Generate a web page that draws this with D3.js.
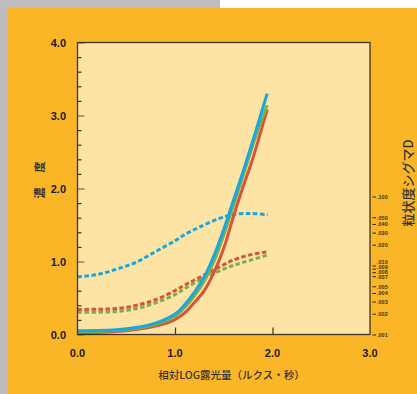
<!DOCTYPE html>
<html>
<head>
<meta charset="utf-8">
<script src="https://cdn.jsdelivr.net/npm/d3@7"></script>
<style>
body { margin: 0; }
svg { display: block; }
</style>
</head>
<body>
<div id="chart"></div>
<script>
// characteristic curves (density vs relative log exposure)
var solidExposure = [0, 0.2, 0.4, 0.6, 0.8, 1.0, 1.1, 1.2, 1.3, 1.4, 1.5, 1.6, 1.7, 1.8, 1.945];
var blueDensity  = [0.052, 0.054, 0.065, 0.095, 0.155, 0.28, 0.41, 0.58, 0.79, 1.08, 1.44, 1.84, 2.24, 2.66, 3.30];
var greenDensity = [0.040, 0.042, 0.054, 0.085, 0.140, 0.25, 0.37, 0.53, 0.73, 1.00, 1.36, 1.77, 2.18, 2.60, 3.14];
var redDensity   = [0.025, 0.027, 0.040, 0.070, 0.115, 0.205, 0.295, 0.44, 0.60, 0.85, 1.18, 1.62, 2.03, 2.42, 3.08];

// granularity curves (sigma D, right log axis)
var grainExposure = [0, 0.2, 0.4, 0.6, 0.8, 1.0, 1.1, 1.25, 1.45, 1.6, 1.77, 1.95];
var blueSigma  = [0.0070, 0.0075, 0.0090, 0.0113, 0.0162, 0.0232, 0.0285, 0.0366, 0.0485, 0.0558, 0.0578, 0.0550];
var redSigma   = [0.00235, 0.00236, 0.00242, 0.00268, 0.00325, 0.00440, 0.0053, 0.0068, 0.0096, 0.0122, 0.0145, 0.0161];
var greenSigma = [0.00213, 0.00214, 0.00219, 0.00240, 0.00292, 0.00385, 0.00470, 0.0062, 0.0084, 0.0102, 0.0121, 0.0144];

var xTicks = [0, 1, 2, 3];
var yTicks = [0, 1, 2, 3, 4];
var sigmaTicks = [0.1, 0.05, 0.04, 0.03, 0.02, 0.01, 0.009, 0.008, 0.007, 0.005, 0.004, 0.003, 0.002, 0.001];
var sigmaLabels = [".100", ".050", ".040", ".030", ".020", ".010", ".009", ".008", ".007", ".005", ".004", ".003", ".002", ".001"];

var blue = "#16a8e1", green = "#7fae4a", red = "#d6553a";

var svg = d3.select("#chart").append("svg").attr("width", 417).attr("height", 394);

// page background
svg.append("rect").attr("x", 0).attr("y", 0).attr("width", 417).attr("height", 394).attr("fill", "#ffffff");
svg.append("rect").attr("x", 0).attr("y", 0).attr("width", 220).attr("height", 394).attr("fill", "#bdbdbd");
svg.append("rect").attr("x", 7).attr("y", 8).attr("width", 410).attr("height", 386).attr("fill", "#fbb627");

var plotLeft = 77.5, plotRight = 370, plotTop = 42.5, plotBottom = 334.5;

var x = d3.scaleLinear().domain([0, 3]).range([plotLeft, plotRight]);
var y = d3.scaleLinear().domain([0, 4]).range([plotBottom, plotTop]);
var ySigma = d3.scaleLog().domain([0.001, 0.1]).range([335, 197]);

svg.append("rect").attr("x", plotLeft).attr("y", plotTop)
    .attr("width", plotRight - plotLeft).attr("height", plotBottom - plotTop)
    .attr("fill", "#fde3a4");

svg.append("clipPath").attr("id", "clip").append("rect")
    .attr("x", plotLeft).attr("y", plotTop)
    .attr("width", plotRight - plotLeft).attr("height", plotBottom - plotTop);

// inner ticks on the left axis
function isMajor(d) { return Math.abs(d - Math.round(d)) < 0.01; }
var yAxis = d3.axisRight(y).tickValues(d3.range(0, 4.01, 0.2)).tickSize(4).tickFormat("");
var gy = svg.append("g").attr("transform", "translate(" + plotLeft + ",0)").call(yAxis);
gy.select(".domain").remove();
gy.selectAll(".tick line")
    .attr("x2", function (d) { return isMajor(d) ? 7 : 4; })
    .attr("stroke", function (d) { return isMajor(d) ? "#7a6a4e" : "#3d3425"; })
    .attr("stroke-width", 1.2);

// inner ticks on the bottom axis
var xAxis = d3.axisTop(x).tickValues([1, 2]).tickSize(7).tickFormat("");
var gx = svg.append("g").attr("transform", "translate(0," + plotBottom + ")").call(xAxis);
gx.select(".domain").remove();
gx.selectAll(".tick line").attr("stroke", "#3d3425").attr("stroke-width", 1.2);

// curves
var plot = svg.append("g").attr("clip-path", "url(#clip)");

function drawSigma(values, color) {
    var line = d3.line().curve(d3.curveCatmullRom.alpha(0.5))
        .x(function (d, i) { return x(grainExposure[i]); })
        .y(function (d) { return ySigma(d); });
    plot.append("path").datum(values).attr("d", line).attr("fill", "none")
        .attr("stroke", color).attr("stroke-width", 3).attr("stroke-dasharray", "4.5,2.5");
}
function drawDensity(values, color) {
    var line = d3.line().curve(d3.curveCatmullRom.alpha(0.5))
        .x(function (d, i) { return x(solidExposure[i]); })
        .y(function (d) { return y(d); });
    plot.append("path").datum(values).attr("d", line).attr("fill", "none")
        .attr("stroke", color).attr("stroke-width", 3);
}

drawSigma(greenSigma, green);
drawSigma(redSigma, red);
drawSigma(blueSigma, blue);
drawDensity(redDensity, red);
drawDensity(greenDensity, green);
drawDensity(blueDensity, blue);

// frame
svg.append("rect").attr("x", plotLeft).attr("y", plotTop)
    .attr("width", plotRight - plotLeft).attr("height", plotBottom - plotTop)
    .attr("fill", "none").attr("stroke", "#3d3425").attr("stroke-width", 1.3);

// tick labels
svg.selectAll(".ylab").data(yTicks).enter().append("text")
    .attr("x", 66).attr("y", function (d) { return y(d) + 4; })
    .attr("text-anchor", "end").attr("font-family", "Liberation Sans, Arial, sans-serif")
    .attr("font-weight", "bold").attr("font-size", 11).attr("fill", "#1a1a1a")
    .text(function (d) { return d.toFixed(1); });

svg.selectAll(".xlab").data(xTicks).enter().append("text")
    .attr("x", function (d) { return x(d); }).attr("y", 356.5)
    .attr("text-anchor", "middle").attr("font-family", "Liberation Sans, Arial, sans-serif")
    .attr("font-weight", "bold").attr("font-size", 11).attr("fill", "#1a1a1a")
    .text(function (d) { return d.toFixed(1); });

// right log axis; labels pushed apart where the ticks crowd
var labelY = sigmaTicks.map(function (d) { return ySigma(d); });
for (var i = labelY.length - 2; i >= 0; i--) {
    if (labelY[i + 1] - labelY[i] < 5) labelY[i] = labelY[i + 1] - 5;
}
var gr = svg.append("g");
gr.selectAll("line").data(sigmaTicks).enter().append("line")
    .attr("x1", 372.5).attr("x2", 376)
    .attr("y1", function (d) { return ySigma(d); }).attr("y2", function (d) { return ySigma(d); })
    .attr("stroke", "#2a2418").attr("stroke-width", 1);
gr.selectAll("text").data(sigmaTicks).enter().append("text")
    .attr("x", 377).attr("y", function (d, i) { return labelY[i] + 2; })
    .attr("font-family", "Liberation Sans, Arial, sans-serif").attr("font-weight", "bold")
    .attr("font-size", 5.5).attr("fill", "#3a3020")
    .text(function (d, i) { return sigmaLabels[i]; });

// axis titles
var cjk = "Noto Sans CJK JP, Noto Sans, sans-serif";
svg.append("text").attr("x", 231.5).attr("y", 379)
    .attr("text-anchor", "middle").attr("font-family", cjk).attr("font-weight", 500)
    .attr("font-size", 10.5).attr("fill", "#333")
    .text("相対LOG露光量（ルクス・秒）");

svg.append("text").attr("transform", "translate(44,179) rotate(-90)")
    .attr("text-anchor", "middle").attr("font-family", cjk).attr("font-weight", "bold")
    .attr("font-size", 11).attr("letter-spacing", 2).attr("fill", "#333")
    .text("濃　度");

svg.append("text").attr("transform", "translate(412.5,183) rotate(-90)")
    .attr("text-anchor", "middle").attr("font-family", cjk).attr("font-weight", 500)
    .attr("font-size", 13).attr("fill", "#333")
    .text("粒状度シグマD");
</script>
</body>
</html>
